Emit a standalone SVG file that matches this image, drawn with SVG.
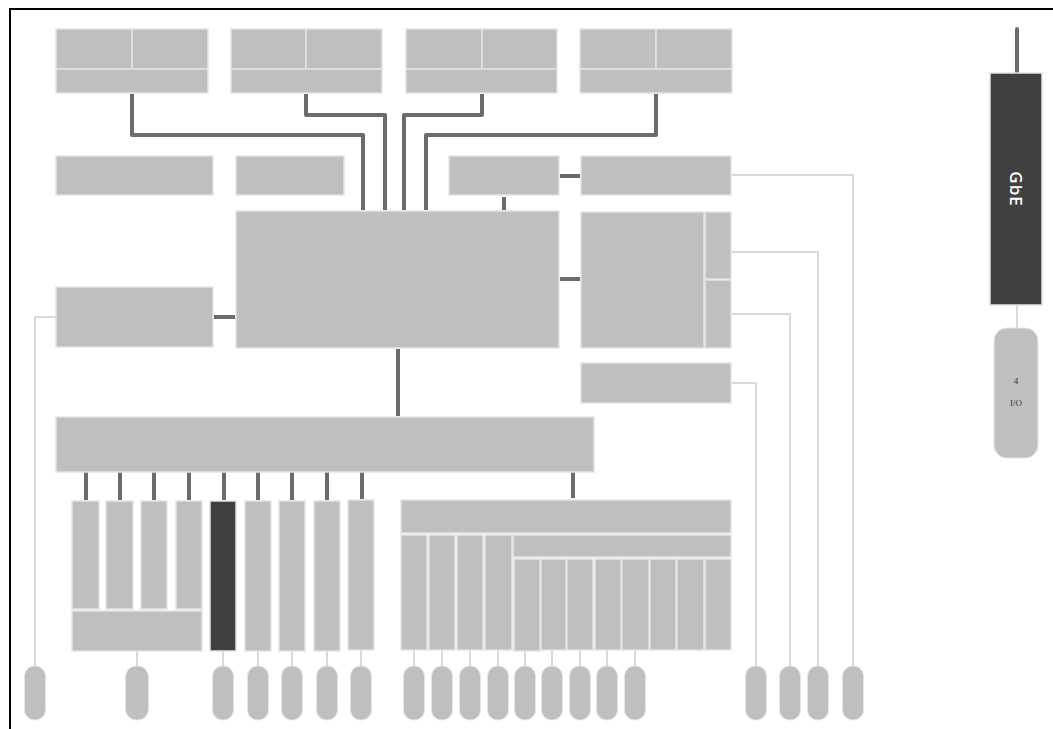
<svg xmlns="http://www.w3.org/2000/svg" width="1053" height="729" viewBox="0 0 1053 729">
<style>
.box{fill:#bfbfbf;stroke:#e4e4e4;stroke-width:1.5}
.dark{fill:#404040;stroke:#e4e4e4;stroke-width:1.5}
.pill{fill:#bfbfbf;stroke:#e4e4e4;stroke-width:1}
.bus{fill:none;stroke:#6b6b6b;stroke-width:4;stroke-linejoin:round}
.thin{fill:none;stroke:#cdcdcd;stroke-width:1.5}
.lbl{font-family:"Liberation Serif",serif;font-size:9px;fill:#3a3a3a;text-anchor:middle}
</style>
<rect x="0" y="0" width="1053" height="729" fill="#ffffff"/>
<path d="M10,729 V9 H1053" fill="none" stroke="#000" stroke-width="2"/>

<g id="connectors">
<path class="bus" d="M132,94 V135 H363 V210"/>
<path class="bus" d="M306,94 V115 H385 V210"/>
<path class="bus" d="M482,94 V115 H404 V210"/>
<path class="bus" d="M656,94 V135 H426 V210"/>
<path class="bus" d="M560,176 H580"/>
<path class="bus" d="M504,197 V210"/>
<path class="bus" d="M214,317 H235"/>
<path class="bus" d="M560,279 H580"/>
<path class="bus" d="M398,349 V416"/>
<path class="bus" d="M86,472 V500 M120,472 V500 M154,472 V500 M189,472 V500 M224,472 V500 M258,472 V500 M292,472 V500 M327,472 V500 M362,472 V499 M573,472 V498"/>
<path class="bus" stroke-linecap="round" d="M1017,29 V72"/>
<path class="thin" d="M56,317 H35 V666"/>
<path class="thin" d="M137,651 V666 M223,651 V666 M258,651 V666 M292,651 V666 M327,651 V666 M361,650 V666"/>
<path class="thin" d="M414,650 V666 M442,650 V666 M470,650 V666 M498,650 V666 M525,651 V666 M552,650 V666 M580,650 V666 M607,650 V666 M635,650 V666"/>
<path class="thin" d="M731,175 H853 V666"/>
<path class="thin" d="M731,252 H818 V666"/>
<path class="thin" d="M731,314 H790 V666"/>
<path class="thin" d="M731,383 H756 V666"/>
<path class="thin" d="M1017,305 V328"/>
</g>

<g id="top1"><rect class="box" x="56" y="29" width="76" height="40"/><rect class="box" x="132" y="29" width="76" height="40"/><rect class="box" x="56" y="69" width="152" height="24"/></g>
<g id="top2"><rect class="box" x="231" y="29" width="75" height="40"/><rect class="box" x="306" y="29" width="76" height="40"/><rect class="box" x="231" y="69" width="151" height="24"/></g>
<g id="top3"><rect class="box" x="406" y="29" width="76" height="40"/><rect class="box" x="482" y="29" width="75" height="40"/><rect class="box" x="406" y="69" width="151" height="24"/></g>
<g id="top4"><rect class="box" x="580" y="29" width="76" height="40"/><rect class="box" x="656" y="29" width="76" height="40"/><rect class="box" x="580" y="69" width="152" height="24"/></g>

<g id="rowA"><rect class="box" x="56" y="156" width="157" height="39"/></g>
<g id="rowB"><rect class="box" x="236" y="156" width="108" height="39"/></g>
<g id="rowC"><rect class="box" x="449" y="156" width="110" height="39"/></g>
<g id="rowD"><rect class="box" x="581" y="156" width="150" height="39"/></g>

<g id="main"><rect class="box" x="236" y="211" width="323" height="137"/></g>
<g id="left"><rect class="box" x="56" y="287" width="157" height="60"/></g>
<g id="right"><rect class="box" x="581" y="212" width="123" height="136"/><rect class="box" x="705" y="212" width="26" height="67"/><rect class="box" x="705" y="280" width="26" height="68"/></g>
<g id="boxE"><rect class="box" x="581" y="363" width="150" height="40"/></g>
<g id="busbar"><rect class="box" x="56" y="417" width="538" height="55"/></g>

<g id="cards">
<rect class="box" x="72" y="501" width="27" height="108"/>
<rect class="box" x="106" y="501" width="27" height="108"/>
<rect class="box" x="141" y="501" width="26" height="108"/>
<rect class="box" x="176" y="501" width="26" height="108"/>
<rect class="box" x="72" y="611" width="130" height="40"/>
<rect class="dark" x="210" y="501" width="26" height="150"/>
<rect class="box" x="245" y="501" width="26" height="150"/>
<rect class="box" x="279" y="501" width="26" height="150"/>
<rect class="box" x="314" y="501" width="26" height="150"/>
<rect class="box" x="348" y="500" width="26" height="150"/>
</g>

<g id="block">
<rect class="box" x="401" y="500" width="330" height="33"/>
<rect class="box" x="401" y="535" width="26" height="115"/>
<rect class="box" x="429" y="535" width="26" height="115"/>
<rect class="box" x="457" y="535" width="26" height="115"/>
<rect class="box" x="485" y="535" width="27" height="115"/>
<rect class="box" x="513" y="535" width="218" height="22"/>
<rect class="box" x="514" y="559" width="26" height="92"/>
<rect class="box" x="541" y="559" width="25" height="91"/>
<rect class="box" x="567" y="559" width="26" height="91"/>
<rect class="box" x="595" y="559" width="26" height="91"/>
<rect class="box" x="622" y="559" width="27" height="91"/>
<rect class="box" x="650" y="559" width="26" height="91"/>
<rect class="box" x="677" y="559" width="27" height="91"/>
<rect class="box" x="705" y="559" width="26" height="91"/>
</g>

<g id="pills">
<rect class="pill" x="24.5" y="666" width="21" height="54" rx="10"/>
<rect class="pill" x="125.5" y="666" width="23" height="54" rx="11"/>
<rect class="pill" x="212.5" y="666" width="21" height="54" rx="10"/>
<rect class="pill" x="247.5" y="666" width="21" height="54" rx="10"/>
<rect class="pill" x="281.5" y="666" width="21" height="54" rx="10"/>
<rect class="pill" x="316.5" y="666" width="21" height="54" rx="10"/>
<rect class="pill" x="350.5" y="666" width="21" height="54" rx="10"/>
<rect class="pill" x="403.5" y="666" width="21" height="54" rx="10"/>
<rect class="pill" x="431.5" y="666" width="21" height="54" rx="10"/>
<rect class="pill" x="459.5" y="666" width="21" height="54" rx="10"/>
<rect class="pill" x="487.5" y="666" width="21" height="54" rx="10"/>
<rect class="pill" x="514.5" y="666" width="21" height="54" rx="10"/>
<rect class="pill" x="541.5" y="666" width="21" height="54" rx="10"/>
<rect class="pill" x="569.5" y="666" width="21" height="54" rx="10"/>
<rect class="pill" x="596.5" y="666" width="21" height="54" rx="10"/>
<rect class="pill" x="624.5" y="666" width="21" height="54" rx="10"/>
<rect class="pill" x="745.5" y="666" width="21" height="54" rx="10"/>
<rect class="pill" x="779.5" y="666" width="21" height="54" rx="10"/>
<rect class="pill" x="807.5" y="666" width="21" height="54" rx="10"/>
<rect class="pill" x="842.5" y="666" width="21" height="54" rx="10"/>
</g>

<g id="gbe">
<rect class="dark" x="990" y="73" width="52" height="232"/>
<text x="1016" y="189" transform="rotate(90 1016 189)" font-family="'Open Sans',sans-serif" font-size="17" font-weight="600" fill="#ffffff" text-anchor="middle" dominant-baseline="central" letter-spacing="1">GbE</text>
</g>
<g id="io">
<rect class="pill" x="994" y="328" width="44" height="130" rx="13"/>
<text class="lbl" x="1016" y="384">4</text>
<text class="lbl" x="1016" y="406">I/O</text>
</g>
</svg>
